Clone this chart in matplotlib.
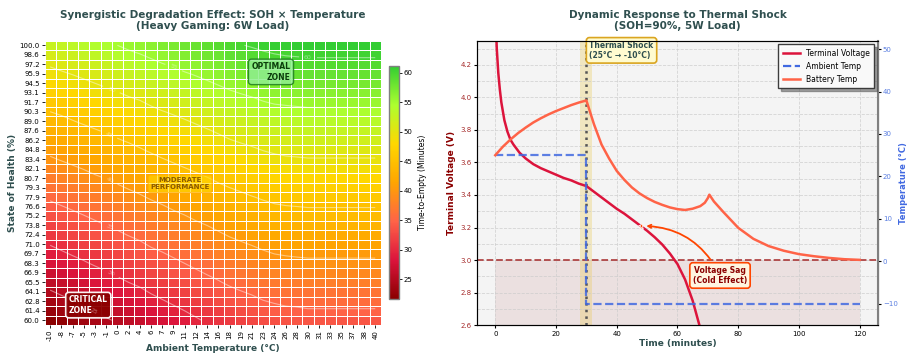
import numpy as np
import matplotlib
matplotlib.use('Agg')
import matplotlib.pyplot as plt
from matplotlib.colors import LinearSegmentedColormap
from matplotlib.lines import Line2D
from matplotlib.ticker import MultipleLocator

# ---- heatmap data: time-to-empty (minutes), rows SOH 60 -> 100, cols -10 -> 40 C
temp_labels = ['-10', '-8', '-7', '-5', '-3', '-1', '0', '2', '4', '6', '7', '9', '11', '12', '14',
               '16', '18', '19', '21', '23', '24', '26', '28', '30', '31', '33', '35', '37', '38', '40']
soh_labels = ['60.0', '61.4', '62.8', '64.1', '65.5', '66.9', '68.3', '69.7', '71.0', '72.4',
              '73.8', '75.2', '76.6', '77.9', '79.3', '80.7', '82.1', '83.4', '84.8', '86.2',
              '87.6', '89.0', '90.3', '91.7', '93.1', '94.5', '95.9', '97.2', '98.6', '100.0']
tte_rows = [
    [21.6, 22.2, 22.8, 23.4, 24.0, 24.7, 25.3, 25.9, 26.5, 27.2, 27.8, 28.4, 29.0, 29.7, 30.3, 30.9, 31.5, 32.0, 32.5, 33.0, 33.3, 33.6, 33.7, 33.8, 33.8, 33.8, 33.8, 33.8, 33.8, 33.8],
    [22.7, 23.3, 23.9, 24.5, 25.1, 25.7, 26.3, 26.9, 27.5, 28.2, 28.8, 29.4, 30.0, 30.6, 31.2, 31.8, 32.4, 32.9, 33.4, 33.9, 34.3, 34.5, 34.6, 34.8, 34.8, 34.8, 34.8, 34.8, 34.8, 34.8],
    [23.7, 24.3, 24.9, 25.5, 26.1, 26.7, 27.3, 27.9, 28.5, 29.2, 29.8, 30.4, 31.0, 31.6, 32.2, 32.8, 33.4, 33.9, 34.4, 34.9, 35.2, 35.5, 35.6, 35.7, 35.7, 35.7, 35.7, 35.7, 35.7, 35.7],
    [24.8, 25.4, 26.0, 26.6, 27.2, 27.8, 28.3, 28.9, 29.5, 30.2, 30.8, 31.4, 32.0, 32.6, 33.2, 33.8, 34.4, 34.9, 35.3, 35.8, 36.2, 36.4, 36.5, 36.6, 36.6, 36.6, 36.6, 36.6, 36.6, 36.6],
    [25.9, 26.4, 27.0, 27.6, 28.2, 28.8, 29.4, 30.0, 30.5, 31.2, 31.8, 32.4, 33.0, 33.6, 34.2, 34.8, 35.4, 35.8, 36.3, 36.8, 37.1, 37.4, 37.5, 37.6, 37.6, 37.6, 37.6, 37.6, 37.6, 37.6],
    [26.9, 27.5, 28.1, 28.7, 29.2, 29.8, 30.4, 31.0, 31.6, 32.3, 32.8, 33.4, 34.0, 34.6, 35.2, 35.7, 36.3, 36.8, 37.2, 37.7, 38.1, 38.3, 38.4, 38.5, 38.5, 38.5, 38.5, 38.5, 38.5, 38.5],
    [28.0, 28.5, 29.1, 29.7, 30.3, 30.8, 31.4, 32.0, 32.6, 33.3, 33.8, 34.4, 35.0, 35.6, 36.1, 36.7, 37.3, 37.7, 38.2, 38.7, 39.0, 39.2, 39.4, 39.5, 39.5, 39.5, 39.5, 39.5, 39.5, 39.5],
    [29.0, 29.6, 30.2, 30.7, 31.3, 31.9, 32.4, 33.0, 33.6, 34.3, 34.8, 35.4, 36.0, 36.5, 37.1, 37.7, 38.3, 38.7, 39.2, 39.6, 40.0, 40.2, 40.3, 40.4, 40.4, 40.4, 40.4, 40.4, 40.4, 40.4],
    [30.1, 30.7, 31.2, 31.8, 32.4, 32.9, 33.5, 34.0, 34.6, 35.3, 35.8, 36.4, 37.0, 37.5, 38.1, 38.7, 39.2, 39.7, 40.1, 40.6, 40.9, 41.1, 41.3, 41.4, 41.4, 41.4, 41.4, 41.4, 41.4, 41.4],
    [31.2, 31.7, 32.3, 32.8, 33.4, 33.9, 34.5, 35.1, 35.6, 36.3, 36.8, 37.4, 38.0, 38.5, 39.1, 39.6, 40.2, 40.6, 41.1, 41.5, 41.9, 42.1, 42.2, 42.3, 42.3, 42.3, 42.3, 42.3, 42.3, 42.3],
    [32.2, 32.8, 33.3, 33.9, 34.4, 35.0, 35.5, 36.1, 36.6, 37.3, 37.8, 38.4, 38.9, 39.5, 40.0, 40.6, 41.2, 41.6, 42.0, 42.5, 42.8, 43.0, 43.1, 43.3, 43.3, 43.3, 43.3, 43.3, 43.3, 43.3],
    [33.3, 33.8, 34.4, 34.9, 35.5, 36.0, 36.6, 37.1, 37.6, 38.3, 38.8, 39.4, 39.9, 40.5, 41.0, 41.6, 42.1, 42.6, 43.0, 43.4, 43.8, 44.0, 44.1, 44.2, 44.2, 44.2, 44.2, 44.2, 44.2, 44.2],
    [34.4, 34.9, 35.4, 36.0, 36.5, 37.0, 37.6, 38.1, 38.7, 39.3, 39.8, 40.4, 40.9, 41.5, 42.0, 42.5, 43.1, 43.5, 44.0, 44.4, 44.7, 44.9, 45.0, 45.1, 45.1, 45.1, 45.1, 45.1, 45.1, 45.1],
    [35.4, 35.9, 36.5, 37.0, 37.5, 38.1, 38.6, 39.1, 39.7, 40.3, 40.8, 41.4, 41.9, 42.4, 43.0, 43.5, 44.1, 44.5, 44.9, 45.3, 45.7, 45.9, 46.0, 46.1, 46.1, 46.1, 46.1, 46.1, 46.1, 46.1],
    [36.5, 37.0, 37.5, 38.1, 38.6, 39.1, 39.6, 40.2, 40.7, 41.3, 41.8, 42.4, 42.9, 43.4, 44.0, 44.5, 45.0, 45.4, 45.9, 46.3, 46.6, 46.8, 46.9, 47.0, 47.0, 47.0, 47.0, 47.0, 47.0, 47.0],
    [37.5, 38.1, 38.6, 39.1, 39.6, 40.1, 40.7, 41.2, 41.7, 42.3, 42.9, 43.4, 43.9, 44.4, 44.9, 45.5, 46.0, 46.4, 46.8, 47.2, 47.6, 47.8, 47.9, 48.0, 48.0, 48.0, 48.0, 48.0, 48.0, 48.0],
    [38.6, 39.1, 39.6, 40.1, 40.7, 41.2, 41.7, 42.2, 42.7, 43.3, 43.9, 44.4, 44.9, 45.4, 45.9, 46.4, 47.0, 47.4, 47.8, 48.2, 48.5, 48.7, 48.8, 48.9, 48.9, 48.9, 48.9, 48.9, 48.9, 48.9],
    [39.7, 40.2, 40.7, 41.2, 41.7, 42.2, 42.7, 43.2, 43.7, 44.3, 44.9, 45.4, 45.9, 46.4, 46.9, 47.4, 47.9, 48.3, 48.7, 49.2, 49.5, 49.7, 49.8, 49.9, 49.9, 49.9, 49.9, 49.9, 49.9, 49.9],
    [40.7, 41.2, 41.7, 42.2, 42.7, 43.2, 43.7, 44.2, 44.8, 45.4, 45.9, 46.4, 46.9, 47.4, 47.9, 48.4, 48.9, 49.3, 49.7, 50.1, 50.4, 50.6, 50.7, 50.8, 50.8, 50.8, 50.8, 50.8, 50.8, 50.8],
    [41.8, 42.3, 42.8, 43.3, 43.8, 44.3, 44.8, 45.3, 45.8, 46.4, 46.9, 47.4, 47.9, 48.4, 48.9, 49.4, 49.9, 50.3, 50.6, 51.1, 51.4, 51.6, 51.7, 51.8, 51.8, 51.8, 51.8, 51.8, 51.8, 51.8],
    [42.8, 43.3, 43.8, 44.3, 44.8, 45.3, 45.8, 46.3, 46.8, 47.4, 47.9, 48.4, 48.8, 49.3, 49.8, 50.3, 50.8, 51.2, 51.6, 52.0, 52.3, 52.5, 52.6, 52.7, 52.7, 52.7, 52.7, 52.7, 52.7, 52.7],
    [43.9, 44.4, 44.9, 45.4, 45.9, 46.3, 46.8, 47.3, 47.8, 48.4, 48.9, 49.4, 49.8, 50.3, 50.8, 51.3, 51.8, 52.2, 52.6, 53.0, 53.3, 53.4, 53.5, 53.7, 53.7, 53.7, 53.7, 53.7, 53.7, 53.7],
    [45.0, 45.4, 45.9, 46.4, 46.9, 47.4, 47.9, 48.3, 48.8, 49.4, 49.9, 50.3, 50.8, 51.3, 51.8, 52.3, 52.8, 53.1, 53.5, 53.9, 54.2, 54.4, 54.5, 54.6, 54.6, 54.6, 54.6, 54.6, 54.6, 54.6],
    [46.0, 46.5, 47.0, 47.5, 47.9, 48.4, 48.9, 49.4, 49.8, 50.4, 50.9, 51.3, 51.8, 52.3, 52.8, 53.2, 53.7, 54.1, 54.5, 54.9, 55.2, 55.3, 55.4, 55.5, 55.5, 55.5, 55.5, 55.5, 55.5, 55.5],
    [47.1, 47.6, 48.0, 48.5, 49.0, 49.4, 49.9, 50.4, 50.8, 51.4, 51.9, 52.3, 52.8, 53.3, 53.7, 54.2, 54.7, 55.1, 55.4, 55.8, 56.1, 56.3, 56.4, 56.5, 56.5, 56.5, 56.5, 56.5, 56.5, 56.5],
    [48.2, 48.6, 49.1, 49.5, 50.0, 50.5, 50.9, 51.4, 51.9, 52.4, 52.9, 53.3, 53.8, 54.3, 54.7, 55.2, 55.7, 56.0, 56.4, 56.8, 57.1, 57.2, 57.3, 57.4, 57.4, 57.4, 57.4, 57.4, 57.4, 57.4],
    [49.2, 49.7, 50.1, 50.6, 51.0, 51.5, 52.0, 52.4, 52.9, 53.4, 53.9, 54.3, 54.8, 55.2, 55.7, 56.2, 56.6, 57.0, 57.4, 57.7, 58.0, 58.2, 58.3, 58.4, 58.4, 58.4, 58.4, 58.4, 58.4, 58.4],
    [50.3, 50.7, 51.2, 51.6, 52.1, 52.5, 53.0, 53.4, 53.9, 54.4, 54.9, 55.3, 55.8, 56.2, 56.7, 57.1, 57.6, 58.0, 58.3, 58.7, 59.0, 59.1, 59.2, 59.3, 59.3, 59.3, 59.3, 59.3, 59.3, 59.3],
    [51.3, 51.8, 52.2, 52.7, 53.1, 53.6, 54.0, 54.5, 54.9, 55.4, 55.9, 56.3, 56.8, 57.2, 57.7, 58.1, 58.6, 58.9, 59.3, 59.6, 59.9, 60.1, 60.2, 60.3, 60.3, 60.3, 60.3, 60.3, 60.3, 60.3],
    [52.4, 52.8, 53.3, 53.7, 54.2, 54.6, 55.0, 55.5, 55.9, 56.4, 56.9, 57.3, 57.8, 58.2, 58.6, 59.1, 59.5, 59.9, 60.2, 60.6, 60.9, 61.0, 61.1, 61.2, 61.2, 61.2, 61.2, 61.2, 61.2, 61.2],
]
contour_levels = [25, 30, 35, 40, 45, 50, 55, 60]

# ---- thermal shock data
time_v = [0, 0.5, 1, 1.5, 2, 3, 4, 5, 6, 8, 10, 12.5, 15, 17.5, 20, 22.5, 25, 27.5, 30,
          32.5, 35, 37.5, 40, 42.5, 45, 47.5, 50, 52.5, 55, 57.5, 60, 62.5, 65, 67.5, 70]
voltage = [4.55, 4.30, 4.15, 4.05, 3.97, 3.86, 3.79, 3.74, 3.71, 3.66, 3.625, 3.59, 3.565, 3.545,
           3.525, 3.505, 3.49, 3.47, 3.455, 3.42, 3.385, 3.35, 3.315, 3.285, 3.25, 3.215, 3.18,
           3.14, 3.095, 3.04, 2.975, 2.88, 2.75, 2.58, 2.35]
time_bt = [0, 2.5, 5, 7.5, 10, 12.5, 15, 17.5, 20, 22.5, 25, 27.5, 30, 32.5, 35, 37.5, 40, 42.5,
           45, 47.5, 50, 52.5, 55, 57.5, 60, 62.5, 65, 67.5, 69, 70, 70.5, 72, 75, 77.5, 80, 85,
           90, 95, 100, 105, 110, 115, 120]
battery_temp = [25.0, 27.0, 28.7, 30.2, 31.5, 32.7, 33.7, 34.6, 35.4, 36.1, 36.8, 37.4, 37.9,
                32.3, 27.5, 24.2, 21.3, 19.2, 17.4, 16.0, 14.9, 14.0, 13.3, 12.7, 12.3, 12.1,
                12.4, 13.0, 13.8, 14.9, 15.7, 14.1, 11.7, 9.8, 7.9, 5.3, 3.6, 2.5, 1.7, 1.2,
                0.8, 0.5, 0.35]
time_amb = [0, 30, 30, 120]
ambient_temp = [25, 25, -10, -10]
shock_time = 30
cutoff_v = 3.0
sag_time, sag_v = 48, 3.21

title_col = '#2F4F4F'

fig = plt.figure(figsize=(9.09, 3.56), dpi=100)

# ================= left: heatmap =================
ax1 = fig.add_axes([0.049, 0.087, 0.370, 0.799])
tte = np.array(tte_rows)[::-1]          # top row = SOH 100
soh_top = soh_labels[::-1]
cmap = LinearSegmentedColormap.from_list(
    'tte', ['#8B0000', '#DC143C', '#FF6347', '#FFA500', '#FFD700', '#ADFF2F', '#32CD32'])
mesh = ax1.pcolormesh(tte, cmap=cmap, vmin=tte.min(), vmax=tte.max(),
                      edgecolors='white', linewidth=0.5)
ax1.set_xlim(0, len(temp_labels))
ax1.set_ylim(len(soh_labels), 0)

cx = np.arange(len(temp_labels)) + 0.5
cy = np.arange(len(soh_labels)) + 0.5
cs = ax1.contour(cx, cy, tte, levels=contour_levels, colors='white', alpha=0.45, linewidths=0.8)
ax1.clabel(cs, inline=True, fontsize=4.5, fmt='%d',
           manual=[(4.5, 28.3), (5.5, 25.5), (5.5, 20.6), (5.5, 15.5), (5.5, 10.6),
                   (5.8, 5.7), (11.5, 2.9), (23.5, 1.8)])

ax1.set_xticks(cx)
ax1.set_xticklabels(temp_labels, rotation=90, fontsize=5)
ax1.set_yticks(cy)
ax1.set_yticklabels(soh_top, fontsize=5)
ax1.tick_params(length=2, width=0.6, pad=1.5)
for s in ax1.spines.values():
    s.set_visible(False)
ax1.set_xlabel('Ambient Temperature (°C)', fontsize=6.5, fontweight='bold', color=title_col, labelpad=2)
ax1.set_ylabel('State of Health (%)', fontsize=6.5, fontweight='bold', color=title_col, labelpad=2)
ax1.set_title('Synergistic Degradation Effect: SOH × Temperature\n(Heavy Gaming: 6W Load)',
              fontsize=7.5, fontweight='bold', color=title_col, pad=8)

ax1.text(20.2, 3.3, 'OPTIMAL\nZONE', ha='center', va='center', multialignment='right',
         fontsize=5.5, fontweight='bold', color='#0B3D0B',
         bbox=dict(boxstyle='round,pad=0.4', fc='#90EE90', ec='#1E7B1E', lw=1, alpha=0.85))
ax1.text(12.1, 15.1, 'MODERATE\nPERFORMANCE', ha='center', va='center',
         fontsize=5, fontweight='bold', color='#8B5A00',
         bbox=dict(boxstyle='round,pad=0.35', fc='#FFD700', ec='#FFA500', lw=1, alpha=0.6))
ax1.text(3.9, 27.9, 'CRITICAL\nZONE', ha='center', va='center', multialignment='left',
         fontsize=5.5, fontweight='bold', color='white',
         bbox=dict(boxstyle='round,pad=0.4', fc='#8B0000', ec='white', lw=1.2, alpha=0.95))

cax = fig.add_axes([0.428, 0.160, 0.011, 0.655])
cb = fig.colorbar(mesh, cax=cax)
cb.set_label('Time-to-Empty (Minutes)', fontsize=5.5)
cb.ax.tick_params(labelsize=5, length=2, width=0.6, pad=1.5)
cb.outline.set_edgecolor('gray')
cb.outline.set_linewidth(1)

# ================= right: thermal shock =================
ax2 = fig.add_axes([0.5248, 0.087, 0.441, 0.799])
ax2.set_facecolor('#f4f4f4')
ax2.plot(time_v, voltage, color='#DC143C', lw=1.8, zorder=4)
ax2.axhline(cutoff_v, color='#A52A2A', ls='--', lw=1.3, alpha=0.85, zorder=3)
ax2.fill_between([time_bt[0], time_bt[-1]], 2.6, cutoff_v, color='#8B0000', alpha=0.08, lw=0)
ax2.axvspan(shock_time - 2, shock_time + 2, color='#E8C84A', alpha=0.3, lw=0)
ax2.axvline(shock_time, color='#555555', ls=':', lw=1.8, zorder=3)
ax2.plot(sag_time, sag_v, marker='*', color='#FF4500', mec='white', mew=0.5, ms=5, zorder=6)
ax2.annotate('Voltage Sag\n(Cold Effect)', xy=(sag_time + 0.8, sag_v), xytext=(74, 2.905),
             ha='center', va='center', fontsize=5.5, fontweight='bold', color='#8B0000',
             bbox=dict(boxstyle='round,pad=0.4', fc='#FFF5E0', ec='#FF4500', lw=1.2),
             arrowprops=dict(arrowstyle='->', color='#FF4500', lw=1.3,
                             connectionstyle='arc3,rad=0.3'), zorder=7)
ax2.text(shock_time + 1, 4.29, 'Thermal Shock\n(25°C → -10°C)', ha='left', va='center',
         fontsize=5.5, fontweight='bold', color=title_col, zorder=7,
         bbox=dict(boxstyle='round,pad=0.4', fc='#FFFBD0', ec='#DAA520', lw=1.2))

ax2.set_ylim(2.6, 4.35)
ax2.yaxis.set_minor_locator(MultipleLocator(0.1))
ax2.grid(True, which='major', ls='--', lw=0.6, color='#cccccc', alpha=0.8)
ax2.grid(True, which='minor', axis='y', ls='--', lw=0.6, color='#cccccc', alpha=0.8)
ax2.tick_params(which='minor', length=0)
ax2.tick_params(axis='y', labelcolor='#A52A2A', labelsize=5, length=2.5, pad=1.5)
ax2.tick_params(axis='x', labelsize=5, length=2.5, pad=1.5)
ax2.set_xlabel('Time (minutes)', fontsize=6.5, fontweight='bold', color=title_col, labelpad=2)
ax2.set_ylabel('Terminal Voltage (V)', fontsize=6.5, fontweight='bold', color='#8B0000', labelpad=3)
ax2.set_title('Dynamic Response to Thermal Shock\n(SOH=90%, 5W Load)',
              fontsize=7.5, fontweight='bold', color=title_col, pad=8)
for s in ['left', 'bottom', 'top']:
    ax2.spines[s].set_color('#333333')

axT = ax2.twinx()
axT.plot(time_amb, ambient_temp, color='#4169E1', ls='--', lw=1.6, alpha=0.85, zorder=3)
axT.plot(time_bt, battery_temp, color='#FF6347', lw=1.8, zorder=4)
axT.set_ylim(-15, 52)
axT.tick_params(axis='y', labelcolor='#5B7FE0', labelsize=5, length=2.5, pad=1)
axT.set_ylabel('Temperature (°C)', fontsize=6, fontweight='bold', color='#4169E1', labelpad=1)
axT.spines['right'].set_color('gray')
axT.spines['right'].set_linewidth(1.5)

handles = [Line2D([], [], color='#DC143C', lw=1.8),
           Line2D([], [], color='#4169E1', ls='--', lw=1.6),
           Line2D([], [], color='#FF6347', lw=1.8)]
axT.legend(handles, ['Terminal Voltage', 'Ambient Temp', 'Battery Temp'], loc='upper right',
           fontsize=5.5, shadow=True, fancybox=False, framealpha=0.95, edgecolor='#333333',
           borderpad=0.6, handlelength=2.2)

fig.savefig('out.png', dpi=100)
